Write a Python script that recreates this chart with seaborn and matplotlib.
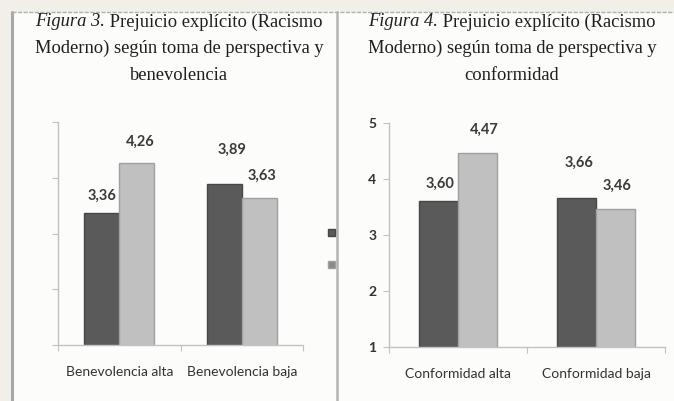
import matplotlib
matplotlib.use("Agg")
import matplotlib.pyplot as plt
from matplotlib.patches import Rectangle, Patch
from matplotlib.lines import Line2D
import seaborn as sns
import pandas as pd

# Mean explicit prejudice (Modern Racism scale) per condition
benev_groups = ["Benevolencia alta", "Benevolencia baja"]
conf_groups = ["Conformidad alta", "Conformidad baja"]
series_names = ["Serie 1", "Serie 2"]
benev_serie1 = [3.36, 3.89]
benev_serie2 = [4.26, 3.63]
conf_serie1 = [3.60, 3.66]
conf_serie2 = [4.47, 3.46]
y_ticks = [1, 2, 3, 4, 5]

# each title line: (italic part, regular part)
title_left = [("Figura 3.", " Prejuicio explícito (Racismo"),
              ("", "Moderno) según toma de perspectiva y"),
              ("", "benevolencia")]
title_right = [("Figura 4.", " Prejuicio explícito (Racismo"),
               ("", "Moderno) según toma de perspectiva y"),
               ("", "conformidad")]

sns.set_style("white")
plt.rcParams["font.family"] = ["Lato", "DejaVu Sans"]

DARK = "#5a5a5a"
LIGHT = "#c0c0c0"
EDGES = ["#474747", "#a0a0a0"]
AXIS = "#c2c2c2"
TEXT = "#333333"
SERIF = ["Liberation Serif", "DejaVu Serif"]


def long_table(groups, s1, s2):
    rows = []
    for name, vals in zip(series_names, [s1, s2]):
        for g, v in zip(groups, vals):
            rows.append({"grupo": g, "serie": name, "valor": v})
    return pd.DataFrame(rows)


fig = plt.figure(figsize=(6.74, 4.01), dpi=100)
fig.patch.set_facecolor("#f2efe9")
W, H = 674, 401

# white page area, borders and separator
fig.patches.append(Rectangle((12 / W, 0), 1 - 12 / W, (H - 12) / H,
                             transform=fig.transFigure, facecolor="#fcfcfb",
                             edgecolor="none", zorder=-5))
fig.lines.append(Line2D([12.5 / W, 12.5 / W], [0, (H - 12) / H],
                        transform=fig.transFigure, color="#a8a8a8", lw=2.2,
                        zorder=-4))
fig.lines.append(Line2D([337 / W, 337 / W], [0, (H - 12) / H],
                        transform=fig.transFigure, color="#b4b4b4", lw=1.8,
                        zorder=-4))
fig.lines.append(Line2D([12 / W, 1], [(H - 12) / H, (H - 12) / H],
                        transform=fig.transFigure, color="#b0b0b0", lw=1.0,
                        ls=(0, (3, 1)), zorder=-4))

ax_l = fig.add_axes([58 / W, (H - 345) / H, 245 / W, 223 / H])
ax_r = fig.add_axes([389 / W, (H - 347) / H, 276 / W, 224 / H])

# label offsets above the bar tops (pixels), per series then per group
offsets_l = [[(0, 11), (8, 27)], [(4, 14), (3, 16)]]
offsets_r = [[(2, 11), (3, 28)], [(7, 16), (1, 16)]]

for ax, groups, s1, s2, offs, show_labels in [
        (ax_l, benev_groups, benev_serie1, benev_serie2, offsets_l, False),
        (ax_r, conf_groups, conf_serie1, conf_serie2, offsets_r, True)]:
    df = long_table(groups, s1, s2)
    sns.barplot(data=df, x="grupo", y="valor", hue="serie",
                palette=[DARK, LIGHT], width=0.57, saturation=1,
                legend=False, ax=ax, linewidth=1.0)
    ax.set_facecolor("none")
    for k, cont in enumerate(ax.containers):
        for bar, val, off in zip(cont, cont.datavalues, offs[k]):
            bar.set_edgecolor(EDGES[k])
            ax.annotate(f"{val:.2f}".replace(".", ","),
                        (bar.get_x() + bar.get_width() / 2, val),
                        xytext=off, textcoords="offset pixels",
                        ha="center", va="bottom", fontsize=10.5,
                        fontweight="bold", color="#3a3a3a")
    ax.set_ylim(1, 5)
    ax.set_xlim(-0.5, 1.5)
    ax.set_yticks(y_ticks)
    if not show_labels:
        ax.set_yticklabels([])
    ax.set_xlabel("")
    ax.set_ylabel("")
    for s in ["top", "right"]:
        ax.spines[s].set_visible(False)
    for s in ["left", "bottom"]:
        ax.spines[s].set_color(AXIS)
        ax.spines[s].set_linewidth(1.0)
    ax.tick_params(axis="y", length=4, width=0.8, color=AXIS, pad=5,
                   labelsize=10, labelcolor=TEXT, left=True)
    ax.tick_params(axis="x", which="major", length=0, pad=15,
                   labelsize=10, labelcolor=TEXT)
    ax.set_xticks([-0.5, 0.5, 1.5], minor=True)
    ax.tick_params(axis="x", which="minor", length=4, width=0.8,
                   color=AXIS, bottom=True)
    for lab in ax.get_yticklabels():
        lab.set_fontweight("bold")

# left chart legend keys (labels fall outside the panel)
handles = [Patch(facecolor=DARK, edgecolor=EDGES[0]),
           Patch(facecolor="#8a8a8a", edgecolor=EDGES[1])]
ax_l.legend(handles, ["", ""], loc="center left",
            bbox_to_anchor=(322 / W, (H - 249) / H),
            bbox_transform=fig.transFigure, frameon=False,
            handlelength=0.55, handleheight=0.55, labelspacing=1.6,
            fontsize=9, borderpad=0, handletextpad=0)

# titles: italic figure number followed by regular text, centred as one line
renderer = fig.canvas.get_renderer()
for lines, cx in [(title_left, 179), (title_right, 512)]:
    for (ital, reg), cy in zip(lines, [22, 48, 76]):
        y = (H - cy) / H
        kw = dict(va="center", fontsize=13.3, color="#1e1e1e", family=SERIF)
        t_i = fig.text(0, y, ital, style="italic", ha="left", **kw)
        t_r = fig.text(0, y, reg, ha="left", **kw)
        w_i = t_i.get_window_extent(renderer).width if ital else 0
        w_r = t_r.get_window_extent(renderer).width
        x0 = cx - (w_i + w_r) / 2
        t_i.set_x(x0 / W)
        t_r.set_x((x0 + w_i) / W)

fig.savefig("out.png", dpi=100, facecolor=fig.get_facecolor())
